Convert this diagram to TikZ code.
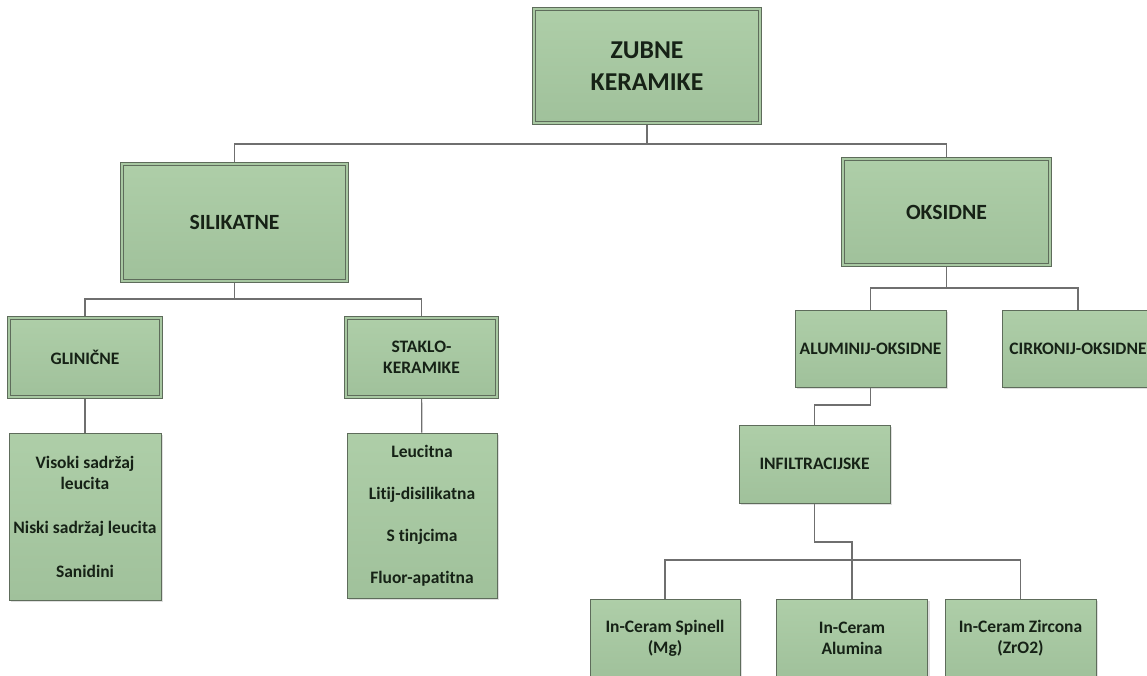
\documentclass[tikz,border=0pt]{standalone}
\usepackage{fontspec}
\setmainfont{Carlito}[Ligatures=NoCommon]
\usetikzlibrary{shadows}
\pgfdeclarelayer{bg}
\pgfsetlayers{bg,main}
\definecolor{greentop}{HTML}{AECEA8}
\definecolor{greenbot}{HTML}{A0C19B}
\definecolor{greenmid}{HTML}{A8C8A2}
\definecolor{boxline}{HTML}{5E6C5B}
\definecolor{textdark}{HTML}{162216}
\definecolor{linkgray}{HTML}{6F6F6F}
\tikzset{
    box/.style={rectangle, draw=boxline, line width=.9pt, top color=greentop,
    	bottom color=greenbot, text=textdark, align=center, inner sep=0pt,
    	drop shadow={shadow xshift=2pt, shadow yshift=-2pt, opacity=.25}},
    dbox/.style={box, double=greenmid, double distance=2.2pt, line width=.9pt},
    link/.style={draw=linkgray, line width=1.2pt},
    big/.style={font=\fontsize{25.7}{31.5}\bfseries\selectfont},
    mid/.style={font=\fontsize{21.7}{26}\bfseries\selectfont},
    small/.style={font=\fontsize{17.5}{21}\bfseries\selectfont}
}

\begin{document}
\begin{tikzpicture}[x=1pt, y=-1pt]
  \useasboundingbox (0,0) rectangle (1147,676);

  \node (zubne) [dbox, big, minimum width=226pt, minimum height=114pt] at (647, 66) {ZUBNE\\KERAMIKE};
  \node (silik) [dbox, mid, minimum width=225pt, minimum height=117pt] at (234.5, 222.5) {SILIKATNE};
  \node (oksid) [dbox, mid, minimum width=207pt, minimum height=106pt] at (946.5, 212) {OKSIDNE};

  \node (glin) [dbox, small, minimum width=152pt, minimum height=79pt] at (85, 357.5) {GLINIČNE};
  \node (staklo) [dbox, small, minimum width=151pt, minimum height=79pt] at (421.5, 357.5) {STAKLO-\\KERAMIKE};
  \node (glinlist) [box, small, minimum width=152pt, minimum height=167pt] at (85, 516.5)
    {Visoki sadržaj\\leucita\\[23pt]Niski sadržaj leucita\\[23pt]Sanidini};
  \node (staklolist) [box, small, minimum width=150pt, minimum height=165pt] at (422, 515.5)
    {Leucitna\\[21pt]Litij-disilikatna\\[21pt]S tinjcima\\[21pt]Fluor-apatitna};

  \node (alum) [box, small, minimum width=151pt, minimum height=77pt] at (870.5, 348.5) {ALUMINIJ-OKSIDNE};
  \node (cirk) [box, small, minimum width=152pt, minimum height=77pt] at (1078, 348.5) {CIRKONIJ-OKSIDNE};
  \node (infil) [box, small, minimum width=151pt, minimum height=78pt] at (814.5, 464) {INFILTRACIJSKE};

  \node (spinell) [box, small, minimum width=150pt, minimum height=79pt] at (665, 638.5) {In-Ceram Spinell\\(Mg)};
  \node (alumina) [box, small, minimum width=151pt, minimum height=79pt] at (852, 638.5) {In-Ceram\\Alumina};
  \node (zircona) [box, small, minimum width=151pt, minimum height=79pt] at (1020.5, 638.5) {In-Ceram Zircona\\(ZrO2)};

  \coordinate (b1) at (647, 144);
  \coordinate (b2) at (234.5, 299);
  \coordinate (b3) at (946.5, 288);
  \coordinate (j1) at (870.5, 405);
  \coordinate (j2) at (814.5, 542);
  \coordinate (b4) at (852, 560);

  \begin{pgfonlayer}{bg}
  \draw [link] (zubne) -- (b1);
  \draw [link] (b1) -| (silik);
  \draw [link] (b1) -| (oksid);
  \draw [link] (silik) -- (b2);
  \draw [link] (b2) -| (glin);
  \draw [link] (b2) -| (staklo);
  \draw [link] (glin) -- (glinlist);
  \draw [link] (staklo) -- (staklolist);
  \draw [link] (oksid) -- (b3);
  \draw [link] (b3) -| (alum);
  \draw [link] (b3) -| (cirk);
  \draw [link] (alum) -- (j1) -| (infil);
  \draw [link] (infil) -- (j2) -| (alumina);
  \draw [link] (b4) -| (spinell);
  \draw [link] (b4) -| (zircona);
  \end{pgfonlayer}
\end{tikzpicture}
\end{document}
